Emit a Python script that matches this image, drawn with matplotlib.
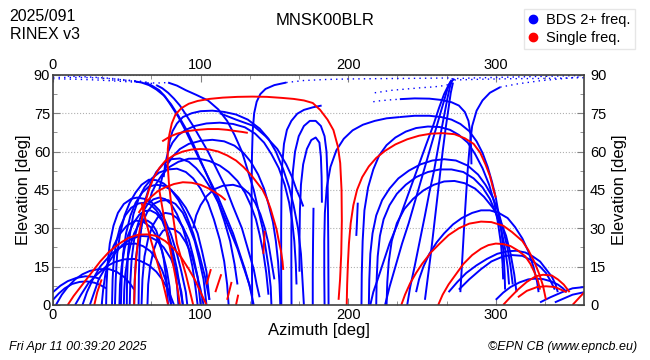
import matplotlib
matplotlib.use('Agg')
import matplotlib.pyplot as plt
from matplotlib.ticker import MultipleLocator

plt.rcParams['font.family'] = ['Liberation Sans', 'DejaVu Sans']

# satellite tracks: lists of (azimuth, elevation)
# BDS tracks with 2+ frequencies (blue)
bds_tracks = [
    # low arcs far left
    [(0, 2), (4, 4.5), (8, 6.5), (13, 8.2), (18, 9), (23, 9.2), (28, 8.7), (32, 7.8), (36, 6.5)],
    [(0, 5), (5, 7.5), (10, 9.3), (16, 10.6), (22, 11.2), (27, 11), (32, 10.2)],
    [(2, 0), (6, 4), (10, 7), (15, 10), (20, 12), (25, 13.3), (31, 14), (38, 14), (43, 13), (48, 11), (52, 8.5), (55, 6)],
    [(15, 0), (19, 4), (24, 8.5), (30, 12), (36, 15), (42, 16.8), (48, 17.8), (55, 18), (60, 17), (65, 15.5), (70, 13), (74, 10), (78, 6), (82, 0)],
    [(20, 0), (23, 5), (27, 10), (32, 15), (38, 19), (44, 22), (50, 23.8), (56, 24), (61, 23), (66, 21), (70, 18), (74, 13.5), (77, 8.5), (80, 0)],
    [(25, 0), (28, 5), (31, 10), (36, 15), (41, 19.5), (47, 23.5), (53, 25.8), (59, 27), (65, 26.8), (70, 25.3), (75, 22.5), (80, 18), (84, 12), (87, 5), (88, 0)],
    [(33, 0), (34, 6), (35.5, 12), (38, 18), (41, 23), (45, 27.5), (50, 31), (56, 33), (61, 32.6), (66, 30.5), (70, 27), (74, 21), (77, 14), (79, 7), (80, 0)],
    # left cluster
    [(36, 0), (36.3, 8), (37, 16), (38.5, 24), (41, 31), (44, 36), (48, 39.5), (53, 41.5), (57, 42), (62, 41.5), (67, 40), (72, 37), (76, 33), (80, 27.5), (84, 20), (87, 13), (90, 5), (91, 0)],
    [(40, 0), (40.4, 10), (41.2, 18), (43, 25), (45.5, 30.5), (49, 35), (53, 38), (58, 39.7), (62, 40), (66, 39.3), (70, 37), (74, 33.5), (78, 28), (81, 22), (84, 14), (86, 7), (88, 0)],
    [(42, 0), (42.5, 10), (43.5, 20), (45.5, 28), (48.5, 35), (52, 40), (56, 44), (60, 47), (65, 49), (70, 48.8), (75, 47.5), (80, 45), (85, 41), (90, 35.5), (95, 28), (99, 20), (103, 11), (106, 2)],
    [(45, 0), (45.4, 8), (46.5, 15), (48.5, 22), (51, 27.5), (54.5, 32), (58.5, 35.3), (62, 36.7), (66, 37), (70, 35.8), (74, 33), (77, 28.5), (80, 22), (82.5, 15), (84, 8), (85, 0)],
    [(46, 0), (46.5, 10), (47.5, 20), (49.5, 28), (52.5, 35), (56, 40), (60.5, 44), (65, 46.3), (70, 47), (75, 46.6), (80, 45), (85, 42), (90, 38), (94, 33.5), (98, 28), (101, 21), (104, 13), (106, 2)],
    [(48, 0), (48.3, 6), (49, 12), (50.5, 18), (52.5, 23.5), (55, 28), (58, 31.3), (61, 32.8), (64, 33), (67, 31.8), (70, 29), (72.5, 24.5), (75, 18), (76.8, 10), (78, 0)],
    [(50, 0), (50.2, 10), (50.8, 20), (52.2, 28), (54.5, 35.5), (58, 41.5), (62, 46), (67, 49.5), (72, 51.8), (78, 53), (84, 53.3), (90, 52), (95, 49.5), (100, 45.5), (105, 40), (109, 33.5), (113, 25.5), (116, 17), (118, 8), (119, 0)],
    [(52, 0), (52.4, 9), (53.3, 18), (55, 25.5), (57.5, 31.5), (60.5, 36), (64, 39.3), (68, 41.3), (72, 42), (76, 41.4), (80, 39.5), (84, 35.5), (88, 30), (91.5, 23), (94.5, 15), (96.5, 7), (98, 0)],
    [(55, 0), (55.4, 10), (56.3, 19), (58, 26), (60.5, 32), (64, 36.5), (68, 39.5), (73, 40.8), (78, 41), (83, 39.5), (88, 36), (92, 31), (96, 25), (99, 18), (102, 10), (104, 0)],
    [(58, 0), (58.2, 12), (58.8, 24), (60.3, 33), (62.5, 41), (66, 47.5), (70, 52), (75, 55.3), (80, 57), (86, 57.3), (92, 56), (97, 53.5), (102, 50), (107, 45.5), (112, 40), (116, 33), (120, 25), (123, 16), (125, 8)],
    [(60, 0), (60.6, 10), (62, 19), (64.5, 26), (67.5, 31), (71, 34.3), (76, 36), (80, 35.6), (84, 34), (88, 30.5), (92, 25.5), (95, 19), (98, 11), (100, 0)],
    [(64, 0), (64.5, 8), (65.8, 15), (68, 21), (71, 26), (74.5, 29), (78, 30), (82, 29.6), (86, 28), (90, 24.5), (94, 19.5), (97, 13), (100, 6), (102, 0)],
    # high tracks coming down from the zenith on the left
    [(55, 87.5), (60, 87), (65, 86), (70, 84.3), (75, 82), (80, 78.5), (85, 74), (90, 69), (95, 63), (100, 56.5), (105, 50), (110, 43), (115, 36), (120, 29), (125, 22), (129, 15), (133, 8), (136, 0)],
    [(62, 87), (67, 85.8), (72, 84), (76, 81.5), (80, 78), (85, 73.5), (90, 68), (95, 62), (100, 56), (106, 49), (112, 42), (117, 35), (122, 28), (126, 21), (130, 14), (133, 8), (135, 4)],
    [(70, 86), (74, 84.8), (78, 83), (82, 80.7), (86, 78), (90, 74.5), (95, 70), (100, 65), (105, 60), (111, 53), (117, 46), (122, 38.5), (128, 30), (132, 22), (136, 14), (138, 8), (140, 3)],
    [(78, 87), (84, 85.8), (90, 84), (97, 82.2), (105, 80), (112, 76.5), (118, 72), (123, 66.5), (128, 60), (132, 52.5), (136, 45), (139, 37.5), (142, 30), (144, 22.5), (146, 15), (147.5, 7), (148, 0)],
    # high arcs over the middle
    [(78, 60), (79, 64), (81, 68), (84, 71), (88, 73.5), (94, 75), (100, 75.8), (108, 76), (116, 75.5), (124, 74.5), (132, 72.5), (140, 69), (146, 65), (151, 60), (156, 53), (160, 46), (163, 39), (166, 30), (168, 20), (169, 10), (170, 0)],
    [(75, 50), (76, 55), (78, 60), (81, 63.5), (85, 66.5), (90, 68.5), (96, 70), (104, 71), (113, 71.3), (122, 70.8), (130, 69.5), (137, 67), (143, 63.5), (148, 59), (153, 53.5), (157, 47), (160, 40), (162, 33), (163.5, 25), (164.5, 16), (165, 8)],
    [(72, 45), (74, 50), (77, 54.5), (81, 58), (86, 61), (92, 63), (100, 64.2), (108, 64.6), (116, 64), (123, 62.3), (129, 59.5), (134, 56), (139, 51), (143, 45.5), (146, 39.5), (149, 32.5), (151, 25), (152.5, 17), (153.5, 8), (154, 0)],
    [(65, 40), (67, 44), (70, 47.5), (74, 51), (79, 54), (85, 56), (92, 57.2), (99, 57.2), (106, 56.3), (113, 54.5), (119, 52), (125, 48.5), (130, 44), (134, 39), (137.5, 33.5), (140, 27.5), (142.5, 20.5), (144.5, 12.5), (146, 4)],
    [(95, 30), (97, 35), (100, 39), (104, 42.5), (109, 45.2), (115, 46.6), (122, 47), (128, 46), (133, 43.5), (137, 40), (140.5, 35.5), (143.5, 30), (146, 24), (148, 17), (150, 10)],
    [(113, 75), (124, 72.5), (136, 70), (144, 66), (152, 61), (158, 55), (162, 50), (165, 45), (168, 41), (169.6, 38.5)],
    # steep middle tracks
    [(135, 0), (134.8, 15), (134.6, 30), (134.6, 45), (134.8, 58), (135.3, 68), (136.3, 75), (138, 79.5), (140.5, 82.5), (144, 84.5), (150, 86), (158, 87)],
    [(154.7, 0), (154.6, 15), (154.6, 30), (154.8, 45), (155.3, 55), (156.5, 63), (158.5, 68.5), (161.5, 72), (165.5, 74.8), (170, 76.3), (176, 77.3), (182, 78)],
    [(161.6, 0), (161.5, 15), (161.5, 30), (161.8, 42), (162.5, 52), (164, 60), (166.5, 66), (170, 70), (174, 72), (178, 72), (181.5, 70), (184, 66), (185.3, 60), (186, 50), (186.3, 38), (186.5, 25), (186.6, 12), (186.7, 0)],
    [(167, 13), (167, 25), (167.3, 37), (168, 47), (169.5, 55), (172, 61), (175, 64.5), (178, 65.5), (180.5, 63.5), (181.5, 58), (182, 50), (182.2, 40)],
    [(176, 0), (176, 12), (176.2, 25), (176.5, 38)],
    [(184, 0), (183.8, 12), (183.8, 25), (184.2, 36), (185.5, 46), (188, 54), (192, 60.5), (197, 65), (203, 68.3), (210, 70.5), (218, 72), (226, 73), (235, 73.5)],
    [(205.5, 27), (206, 33), (206.5, 40)],
    # right cluster, tracks going up to the zenith
    [(215, 0), (217, 5), (220, 10), (224, 17), (228, 24), (233, 31), (238, 39), (243, 47), (248, 55), (253, 63), (257.5, 70), (261.5, 77), (265, 82.5), (268, 86), (270, 88)],
    [(225, 0), (228, 7), (232, 15), (236.5, 24), (241, 32), (245.5, 41), (250, 50), (254, 58), (258, 66), (261.5, 73), (264.5, 79), (267, 84), (269, 87), (272, 88.5)],
    [(240, 0), (242, 7), (245, 15), (248.5, 25), (252, 35), (255, 44), (258, 52), (260.5, 60), (263, 68), (265.3, 75), (267.3, 81), (269, 85.5), (270.5, 88)],
    [(252, 2), (254, 11), (256, 20), (258, 30), (260, 40), (262, 50), (264, 60), (266, 69), (268, 77), (269.5, 83), (271, 87)],
    [(276, 5), (277, 15), (278, 25), (279, 35), (280, 44), (281, 53), (282.3, 62), (284, 70), (287, 76), (291, 80), (296, 83), (303, 85.2)],
    # right cluster arcs
    [(235, 73.5), (245, 74), (255, 74), (263, 73.5), (270, 72.5), (276, 70.8), (282, 68), (287, 64), (291, 59.5), (294.5, 54), (297.5, 48), (300, 42), (302, 35.5), (304, 28), (305.3, 20), (306, 12), (306.3, 6)],
    [(209, 0), (209.2, 12), (209.8, 25), (211, 37), (213.5, 46), (217, 53), (221, 58.5), (226, 62.5), (232, 65.5), (239, 67.8), (246, 69.2), (254, 69.8), (262, 69.6), (269, 68.5), (275, 66.5), (281, 63.5), (286, 59), (291, 53.5), (295.5, 47), (299, 40), (301.5, 32), (303.5, 24), (304.6, 16), (305, 10)],
    [(235, 80.5), (245, 80.8), (255, 80.7), (263, 80.2), (270, 79.3), (275, 78), (279, 75.5), (281.5, 72), (282.8, 67), (283.3, 61), (283.5, 55)],
    [(214, 0), (214.3, 10), (215, 20), (216.5, 28), (219, 35), (223, 41), (228, 45.5), (234, 49.5), (241, 52.5), (249, 55), (257, 56.5), (265, 57), (273, 56.5), (281, 54.5), (288, 51), (293, 47), (298, 42), (302, 36), (305, 29.5), (308, 22), (310, 15), (311.5, 8)],
    [(219, 0), (219.3, 10), (220, 19), (221.5, 27), (224, 33.5), (228, 39), (233, 43.5), (239, 47), (246, 50), (254, 52), (262, 53), (270, 53), (278, 52), (285, 49.5), (291, 46), (296, 41.5), (300, 36), (303.5, 30), (306, 23), (308, 15), (309, 8)],
    [(226, 0), (226.5, 9), (227.5, 17), (229.5, 25), (233, 32), (238, 37.5), (244, 41.5), (251, 44.8), (258, 47), (265, 48.3), (272, 48.5), (279, 47.6), (286, 45.5), (292, 42.3), (298, 38), (303, 33), (307, 27), (310, 20), (312.5, 12), (314, 5)],
    [(246, 5), (248, 10), (251, 15), (255, 20), (260, 24.5), (265, 28), (271, 31.5), (277, 34), (284, 36), (290, 37), (296, 37), (302, 36), (308, 34), (313, 30.5), (318, 26), (322, 21), (325.5, 15), (328, 9), (329, 5)],
    [(268, 5), (274, 9), (280, 12.5), (287, 15.5), (294, 18), (301, 20), (308, 21), (314, 21.2), (320, 20.5), (325, 19), (330, 17), (334, 14), (338, 11), (340.5, 8), (342, 5)],
    [(275, 6), (282, 10), (290, 14), (297, 17), (305, 19), (311, 19.5), (318, 19.2), (324, 17.5), (330, 15), (334, 12.5), (337, 9.5), (340, 6)],
    [(300, 2), (305, 4.8), (310, 7), (316, 8.8), (322, 10), (327, 10.3), (332, 10.1), (337, 9.3), (342, 8), (345.5, 6.5), (348, 5)],
    [(330, 1), (337, 3), (345, 5), (352, 6.5), (360, 7)],
    [(340, 1), (346, 2.5), (352, 4), (360, 5)],
]

# BDS tracks near the zenith, drawn as dots
bds_zenith = [
    [(0, 89), (10, 89), (20, 89), (30, 88.8), (40, 88.5), (48, 88), (55, 87.5)],
    [(10, 89.5), (20, 89.3), (30, 89), (40, 88.6), (50, 88), (56, 87.6), (62, 87)],
    [(40, 88), (50, 87.8), (60, 87.5), (65, 87), (70, 86)],
    [(0, 88.5), (15, 88.3), (30, 88), (45, 87.5), (60, 87), (70, 86.8), (78, 87)],
    [(158, 87), (170, 87.8), (185, 88.2), (200, 88.4), (215, 88.5), (235, 88.6), (255, 88.7), (270, 88.8)],
    [(217, 79.5), (222, 79.9), (228, 80.2), (235, 80.5)],
    [(218, 83), (230, 84), (240, 84.5), (250, 85), (258, 85.3), (265, 85.8), (270, 86.5)],
    [(270, 88.5), (285, 88.8), (300, 89), (315, 89.2), (330, 89.4), (345, 89.6), (360, 89.8)],
    [(303, 85.2), (315, 86.5), (330, 87.7), (345, 88.5), (358, 89.3)],
    [(272, 88), (290, 88.3), (310, 88.5), (330, 88.6), (350, 88.8), (360, 88.9)],
]

# single-frequency tracks (red)
single_tracks = [
    [(10, 0), (14, 3.5), (20, 8), (26, 12.5), (32, 17), (38, 20.8), (45, 24), (51, 26.2), (58, 27.5), (64, 27.6), (70, 27), (76, 25), (82, 22), (87, 18.5), (92, 14), (96, 10), (100, 5), (104, 0)],
    [(58, 36), (62, 39.5), (66, 42), (71, 44.5), (76, 46), (82, 47.3), (88, 48), (94, 47.8), (100, 47), (105, 45.7), (110, 44), (114, 42.5), (117, 41)],
    [(55, 0), (55.3, 8), (56, 15), (57, 22), (58.5, 28.5), (60.5, 34.5), (62.5, 40), (65, 45), (68, 49.5), (72, 53.5), (76, 56.3), (82, 58.6), (88, 60), (94, 60.8), (100, 61), (106, 60.8), (112, 60), (118, 58.5), (124, 56.5), (129, 54), (134, 51), (138, 48), (142, 45), (145, 41.5), (147.5, 37.5), (149.5, 33.5), (151.5, 29.5), (153, 25), (154.5, 21), (155.5, 17), (156, 13.7)],
    [(74, 64), (79, 65.8), (84, 67), (91, 68), (98, 68.5), (105, 68.8), (112, 68.8), (118, 68.5), (124, 68), (128, 67.7), (132, 67.3)],
    [(95, 0), (92.5, 6), (90, 12), (87, 18), (84, 24), (82, 32), (80, 40), (78.5, 48), (77.7, 55), (77.8, 61), (78.8, 66.5), (80.5, 71), (83, 74.5), (87, 77), (92, 78.7), (98, 79.8), (106, 80.6), (115, 81.1), (125, 81.4), (135, 81.5), (145, 81.4), (155, 81), (163, 80.6), (170, 80), (176, 79), (181, 76.3), (186, 72.5), (190, 68.4), (193, 62), (194.6, 55.5), (195.5, 45), (195.7, 33), (195.3, 20), (194.5, 10), (193.5, 2)],
    [(72, 45), (73.5, 40), (75, 35), (77, 29), (79, 23), (81, 17), (83, 11), (84.5, 6), (86, 0)],
    [(60, 40), (62, 35), (64, 30.5), (66, 26), (68.5, 21), (71, 16), (73.5, 11), (76, 5), (78, 0)],
    [(28, 0), (30, 5), (33, 10)],
    [(104, 8), (107, 14)],
    [(110, 5), (114, 12)],
    [(118, 2), (121, 9)],
    [(124, 0), (125.5, 4)],
    [(142.5, 20), (143.5, 29)],
    [(199, 0), (199.3, 8), (199.8, 16), (200.5, 24), (201.7, 32), (203.5, 39), (206, 45), (209.5, 50), (214, 54.2), (219, 57.5), (225, 60.3), (232, 62.8), (240, 64.8), (248, 66.2), (256, 67), (264, 67.2), (272, 66.8), (279, 65.2), (285, 63), (289.5, 59.5), (293, 55), (296, 50.5), (298, 46), (300, 42)],
    [(236, 0), (238.5, 4), (242, 8.5), (246, 12.5), (250, 16), (256, 20.5), (262, 24), (268, 27.3), (275, 30), (282, 31.8), (290, 32.6), (297, 32.4), (305, 31), (311, 28.5), (318, 25), (322, 21.5), (326, 17), (329.5, 12), (332, 7.5), (334, 2)],
    [(261, 0), (264, 4), (268, 8), (273, 12), (278, 16), (284, 19.5), (290, 22), (295, 23.4), (300, 24), (305, 23.8), (310, 23), (315, 21.3), (320, 19), (323.5, 16), (326, 13), (328.5, 9.5), (330, 6)],
    [(305, 0), (309, 2.5), (315, 6), (321, 9), (327, 11.2), (332, 11.8), (338, 11.5), (342, 10), (346, 8), (350, 5)],
    [(315, 3), (321, 5.5), (328, 7), (334, 7.3), (340, 7), (344, 6), (348, 5)],
    [(352, 0), (356, 2.5), (360, 5)],
]

legend_labels = ['BDS 2+ freq.', 'Single freq.']
blue = '#0000ff'
red = '#ff0000'

fig = plt.figure(figsize=(6.5, 3.6), dpi=100)
ax = fig.add_axes([0.0815, 0.153, 0.8175, 0.639])

for tr in bds_tracks:
    az, el = zip(*tr)
    ax.plot(az, el, color=blue, lw=1.4, solid_capstyle='butt', solid_joinstyle='round')
for tr in bds_zenith:
    az, el = zip(*tr)
    ax.plot(az, el, color=blue, lw=1.0, linestyle=(0, (1, 3)))
for tr in single_tracks:
    az, el = zip(*tr)
    ax.plot(az, el, color=red, lw=1.4, solid_capstyle='butt', solid_joinstyle='round')

ax.set_xlim(0, 360)
ax.set_ylim(0, 90)
ax.set_xticks([0, 100, 200, 300])
ax.xaxis.set_minor_locator(MultipleLocator(100 / 3))
ax.set_yticks([0, 15, 30, 45, 60, 75, 90])
ax.yaxis.set_minor_locator(MultipleLocator(7.5))
ax.grid(True, axis='y', color='#b0b0b0', linestyle=':', lw=0.8)
ax.tick_params(which='both', direction='in', top=True, right=True,
               labeltop=True, color='#808080', labelsize=10.5, pad=2)
ax.tick_params(which='major', length=5)
ax.tick_params(which='minor', length=3)
for s in ax.spines.values():
    s.set_color('#404040')
    s.set_linewidth(1.2)

ax.set_xlabel('Azimuth [deg]', fontsize=12, labelpad=1)
ax.set_ylabel('Elevation [deg]', fontsize=12, labelpad=2)
sec = ax.secondary_yaxis('right')
sec.set_yticks([0, 15, 30, 45, 60, 75, 90])
sec.tick_params(direction='in', length=0, labelsize=10.5, pad=4)
sec.set_ylabel('Elevation [deg]', fontsize=12, labelpad=4)
sec.spines['right'].set_visible(False)

fig.text(0.015, 0.955, '2025/091', fontsize=11.5, va='center')
fig.text(0.015, 0.905, 'RINEX v3', fontsize=11.5, va='center')
fig.text(0.50, 0.943, 'MNSK00BLR', fontsize=12, ha='center', va='center')
fig.text(0.014, 0.035, 'Fri Apr 11 00:39:20 2025', fontsize=9, style='italic', va='center')
fig.text(0.98, 0.035, '\u00a9EPN CB (www.epncb.eu)', fontsize=9, style='italic', ha='right', va='center')

h1, = ax.plot([], [], 'o', color=blue, markersize=6)
h2, = ax.plot([], [], 'o', color=red, markersize=6)
fig.legend([h1, h2], legend_labels, loc='upper right', bbox_to_anchor=(0.988, 0.995),
           fontsize=10.5, frameon=True, fancybox=False, edgecolor='#e0e0e0',
           handlelength=0.6, handletextpad=0.6, borderpad=0.3, labelspacing=0.25)

fig.savefig('out.png', dpi=100)
